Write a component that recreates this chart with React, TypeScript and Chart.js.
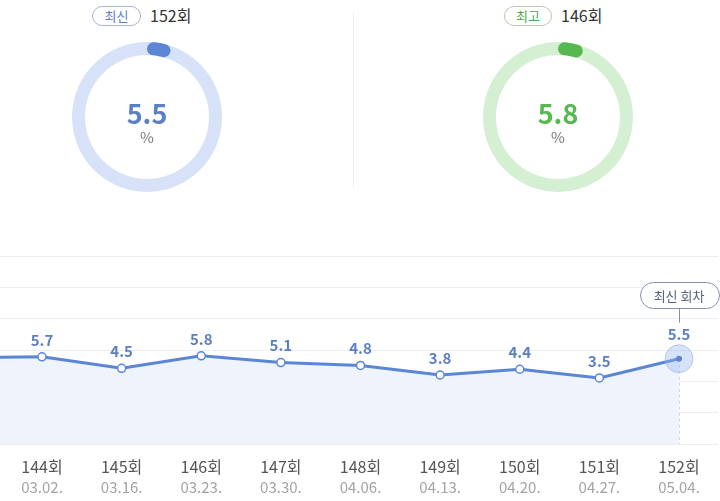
import React, { useEffect, useRef } from 'react';
import { Chart, registerables } from 'chart.js';

Chart.register(...registerables);

const FONT = '"Noto Sans CJK KR", "Noto Sans", sans-serif';

// Gauges (top)
const gaugeTags = ['최신', '최고'];
const gaugeEpisodes = ['152회', '146회'];
const gaugeValues = [5.5, 5.8];
const gaugeMax = 100;

// Trend line (bottom)
const episodes = ['143회', '144회', '145회', '146회', '147회', '148회', '149회', '150회', '151회', '152회'];
const dates = ['', '03.02.', '03.16.', '03.23.', '03.30.', '04.06.', '04.13.', '04.20.', '04.27.', '05.04.'];
const ratings = [5.6, 5.7, 4.5, 5.8, 5.1, 4.8, 3.8, 4.4, 3.5, 5.5];
const latestTag = '최신 회차';

const BLUE = '#5b85d5';
const GREEN = '#55b94f';

function Gauge({ value, color, track, left }: { value: number; color: string; track: string; left: number }) {
  const ref = useRef<HTMLCanvasElement>(null);
  useEffect(() => {
    const trackPlugin = {
      id: 'track',
      beforeDatasetsDraw(chart: any) {
        const arc: any = chart.getDatasetMeta(0).data[0];
        if (!arc) return;
        const { x, y, innerRadius, outerRadius } = arc.getProps(['x', 'y', 'innerRadius', 'outerRadius'], true);
        const ctx = chart.ctx;
        ctx.save();
        ctx.beginPath();
        ctx.arc(x, y, outerRadius, 0, Math.PI * 2);
        ctx.arc(x, y, innerRadius, Math.PI * 2, 0, true);
        ctx.closePath();
        ctx.fillStyle = track;
        ctx.fill('evenodd');
        ctx.restore();
      },
    };
    const chart = new Chart(ref.current as HTMLCanvasElement, {
      type: 'doughnut',
      data: {
        datasets: [
          {
            data: [value, gaugeMax - value],
            backgroundColor: [color, 'rgba(0,0,0,0)'],
            borderWidth: 0,
            borderRadius: (c: any) => (c.dataIndex === 0 ? 7 : 0),
          } as any,
        ],
      },
      options: {
        responsive: false,
        animation: false,
        cutout: '82.7%',
        events: [],
        layout: { padding: 0 },
        plugins: { legend: { display: false }, tooltip: { enabled: false } },
      },
      plugins: [trackPlugin],
    });
    return () => chart.destroy();
  }, []);
  return (
    <canvas
      ref={ref}
      width={150}
      height={150}
      style={{ position: 'absolute', left, top: 42, width: 150, height: 150 }}
    />
  );
}

function Trend() {
  const ref = useRef<HTMLCanvasElement>(null);
  useEffect(() => {
    const last = ratings.length - 1;
    const overlay = {
      id: 'overlay',
      beforeDatasetsDraw(chart: any) {
        const p = chart.getDatasetMeta(0).data[last];
        const ctx = chart.ctx;
        const x = Math.round(p.x) + 0.5;
        ctx.save();
        ctx.strokeStyle = '#c8d5ee';
        ctx.lineWidth = 1;
        ctx.setLineDash([3, 3]);
        ctx.beginPath();
        ctx.moveTo(x, p.y);
        ctx.lineTo(x, chart.chartArea.bottom);
        ctx.stroke();
        ctx.restore();
      },
      afterDatasetsDraw(chart: any) {
        const meta = chart.getDatasetMeta(0);
        const ctx = chart.ctx;
        ctx.save();
        ctx.font = `bold 15px ${FONT}`;
        ctx.fillStyle = '#5b7ec4';
        ctx.textAlign = 'center';
        ctx.textBaseline = 'middle';
        for (let i = 1; i <= last; i++) {
          const p = meta.data[i];
          ctx.fillText(ratings[i].toFixed(1), p.x, p.y - (i === last ? 24 : 17));
        }
        // latest point halo
        const p = meta.data[last];
        ctx.beginPath();
        ctx.arc(p.x, p.y, 14, 0, Math.PI * 2);
        ctx.fillStyle = 'rgba(150,182,238,0.38)';
        ctx.fill();
        ctx.lineWidth = 1;
        ctx.strokeStyle = 'rgba(140,172,230,0.55)';
        ctx.stroke();
        ctx.beginPath();
        ctx.arc(p.x, p.y, 3, 0, Math.PI * 2);
        ctx.fillStyle = BLUE;
        ctx.fill();
        // latest tag bubble
        const bx = Math.round(p.x) + 0.5;
        ctx.strokeStyle = '#8593a8';
        ctx.beginPath();
        ctx.moveTo(bx, p.y - 51);
        ctx.lineTo(bx, p.y - 36);
        ctx.stroke();
        const w = 79;
        const h = 26;
        const top = Math.round(p.y - 77) + 0.5;
        const left = Math.round(p.x - w / 2) + 0.5;
        ctx.beginPath();
        (ctx as any).roundRect(left, top, w, h, 13);
        ctx.fillStyle = '#ffffff';
        ctx.fill();
        ctx.stroke();
        ctx.font = `13px ${FONT}`;
        ctx.fillStyle = '#55637a';
        ctx.fillText(latestTag, p.x, top + h / 2 + 0.5);
        ctx.restore();
      },
    };

    const tickIdx = episodes.map((_, i) => i).filter((i) => i >= 1);
    const xMin = 0.4725;
    const xMax = 9.4895;
    const yMin = -3.4;
    const yMax = 16.22;

    const chart = new Chart(ref.current as HTMLCanvasElement, {
      type: 'line',
      data: {
        datasets: [
          {
            data: ratings.map((v, i) => ({ x: i, y: v })),
            borderColor: BLUE,
            borderWidth: 3,
            backgroundColor: '#eef3fc',
            fill: 'start',
            tension: 0,
            pointRadius: (c: any) => (c.dataIndex === last ? 0 : 4),
            pointBackgroundColor: '#ffffff',
            pointBorderColor: BLUE,
            pointBorderWidth: 1.5,
          } as any,
        ],
      },
      options: {
        responsive: false,
        animation: false,
        events: [],
        layout: { autoPadding: false, padding: { top: 16, left: 0, right: 2, bottom: 5 } },
        plugins: { legend: { display: false }, tooltip: { enabled: false } },
        scales: {
          x: {
            type: 'linear',
            position: 'bottom',
            weight: 1,
            min: xMin,
            max: xMax,
            grid: { display: false, drawTicks: false },
            border: { display: false },
            afterBuildTicks: (s: any) => {
              s.ticks = tickIdx.map((i) => ({ value: i }));
            },
            afterFit: (s: any) => {
              s.height = 32;
            },
            ticks: {
              padding: 13,
              color: '#555555',
              autoSkip: false,
              maxRotation: 0,
              font: { family: FONT, size: 16 },
              callback: (v: any) => episodes[v as number],
            },
          },
          x2: {
            type: 'linear',
            axis: 'x',
            position: 'bottom',
            weight: 2,
            min: xMin,
            max: xMax,
            grid: { display: false, drawTicks: false },
            border: { display: false },
            afterBuildTicks: (s: any) => {
              s.ticks = tickIdx.map((i) => ({ value: i }));
            },
            afterFit: (s: any) => {
              s.height = 20;
            },
            ticks: {
              padding: 2,
              color: '#a3a3a3',
              autoSkip: false,
              maxRotation: 0,
              font: { family: FONT, size: 15 },
              callback: (v: any) => dates[v as number],
            },
          } as any,
          y: {
            min: yMin,
            max: yMax,
            grid: { color: '#eeeeee', drawTicks: false },
            border: { display: false },
            ticks: { display: false, padding: 0 },
            afterFit: (s: any) => {
              s.width = 0;
            },
            afterBuildTicks: (s: any) => {
              const t = [];
              for (let k = 0; k <= 6; k++) t.push({ value: yMin + ((yMax - yMin) * k) / 6 });
              s.ticks = t;
            },
          },
        },
      } as any,
      plugins: [overlay],
    });
    return () => chart.destroy();
  }, []);
  return (
    <canvas
      ref={ref}
      width={720}
      height={261}
      style={{ position: 'absolute', left: 0, top: 240, width: 720, height: 261 }}
    />
  );
}

function Header({ idx, left, pillW, pillBorder, pillColor }: { idx: number; left: number; pillW: number; pillBorder: string; pillColor: string }) {
  return (
    <>
      <div
        style={{
          position: 'absolute',
          left,
          top: 6,
          width: pillW,
          height: 20,
          boxSizing: 'border-box',
          border: `1px solid ${pillBorder}`,
          borderRadius: 10,
          fontSize: 13,
          lineHeight: '18px',
          color: pillColor,
          textAlign: 'center',
          fontFamily: FONT,
          background: '#fff',
        }}
      >
        {gaugeTags[idx]}
      </div>
      <div
        style={{
          position: 'absolute',
          left: left + pillW + 9,
          top: 4,
          fontSize: 16,
          lineHeight: '22px',
          color: '#333',
          fontFamily: FONT,
        }}
      >
        {gaugeEpisodes[idx]}
      </div>
    </>
  );
}

function Center({ idx, cx, color }: { idx: number; cx: number; color: string }) {
  return (
    <>
      <div
        style={{
          position: 'absolute',
          left: cx - 60,
          top: 96,
          width: 120,
          textAlign: 'center',
          fontFamily: FONT,
          fontWeight: 'bold',
          fontSize: 27,
          lineHeight: '34px',
          color,
        }}
      >
        {gaugeValues[idx].toFixed(1)}
      </div>
      <div
        style={{
          position: 'absolute',
          left: cx - 60,
          top: 127,
          width: 120,
          textAlign: 'center',
          fontFamily: FONT,
          fontSize: 15,
          lineHeight: '20px',
          color: '#777',
        }}
      >
        %
      </div>
    </>
  );
}

export default function App() {
  return (
    <div
      style={{
        position: 'absolute',
        left: 0,
        top: 0,
        width: 720,
        height: 501,
        background: '#fff',
        overflow: 'hidden',
        fontFamily: FONT,
      }}
    >
      <Header idx={0} left={92} pillW={49} pillBorder="#aab5ca" pillColor="#5f7fbf" />
      <Header idx={1} left={504} pillW={48} pillBorder="#b3cfae" pillColor="#4fa54b" />
      <Gauge value={gaugeValues[0]} color={BLUE} track="#d7e2f8" left={72} />
      <Gauge value={gaugeValues[1]} color={GREEN} track="#d5efd3" left={483} />
      <Center idx={0} cx={147} color="#5b80c8" />
      <Center idx={1} cx={558} color={GREEN} />
      <div style={{ position: 'absolute', left: 353, top: 12, width: 1, height: 176, background: '#f1f1f1' }} />
      <Trend />
    </div>
  );
}
